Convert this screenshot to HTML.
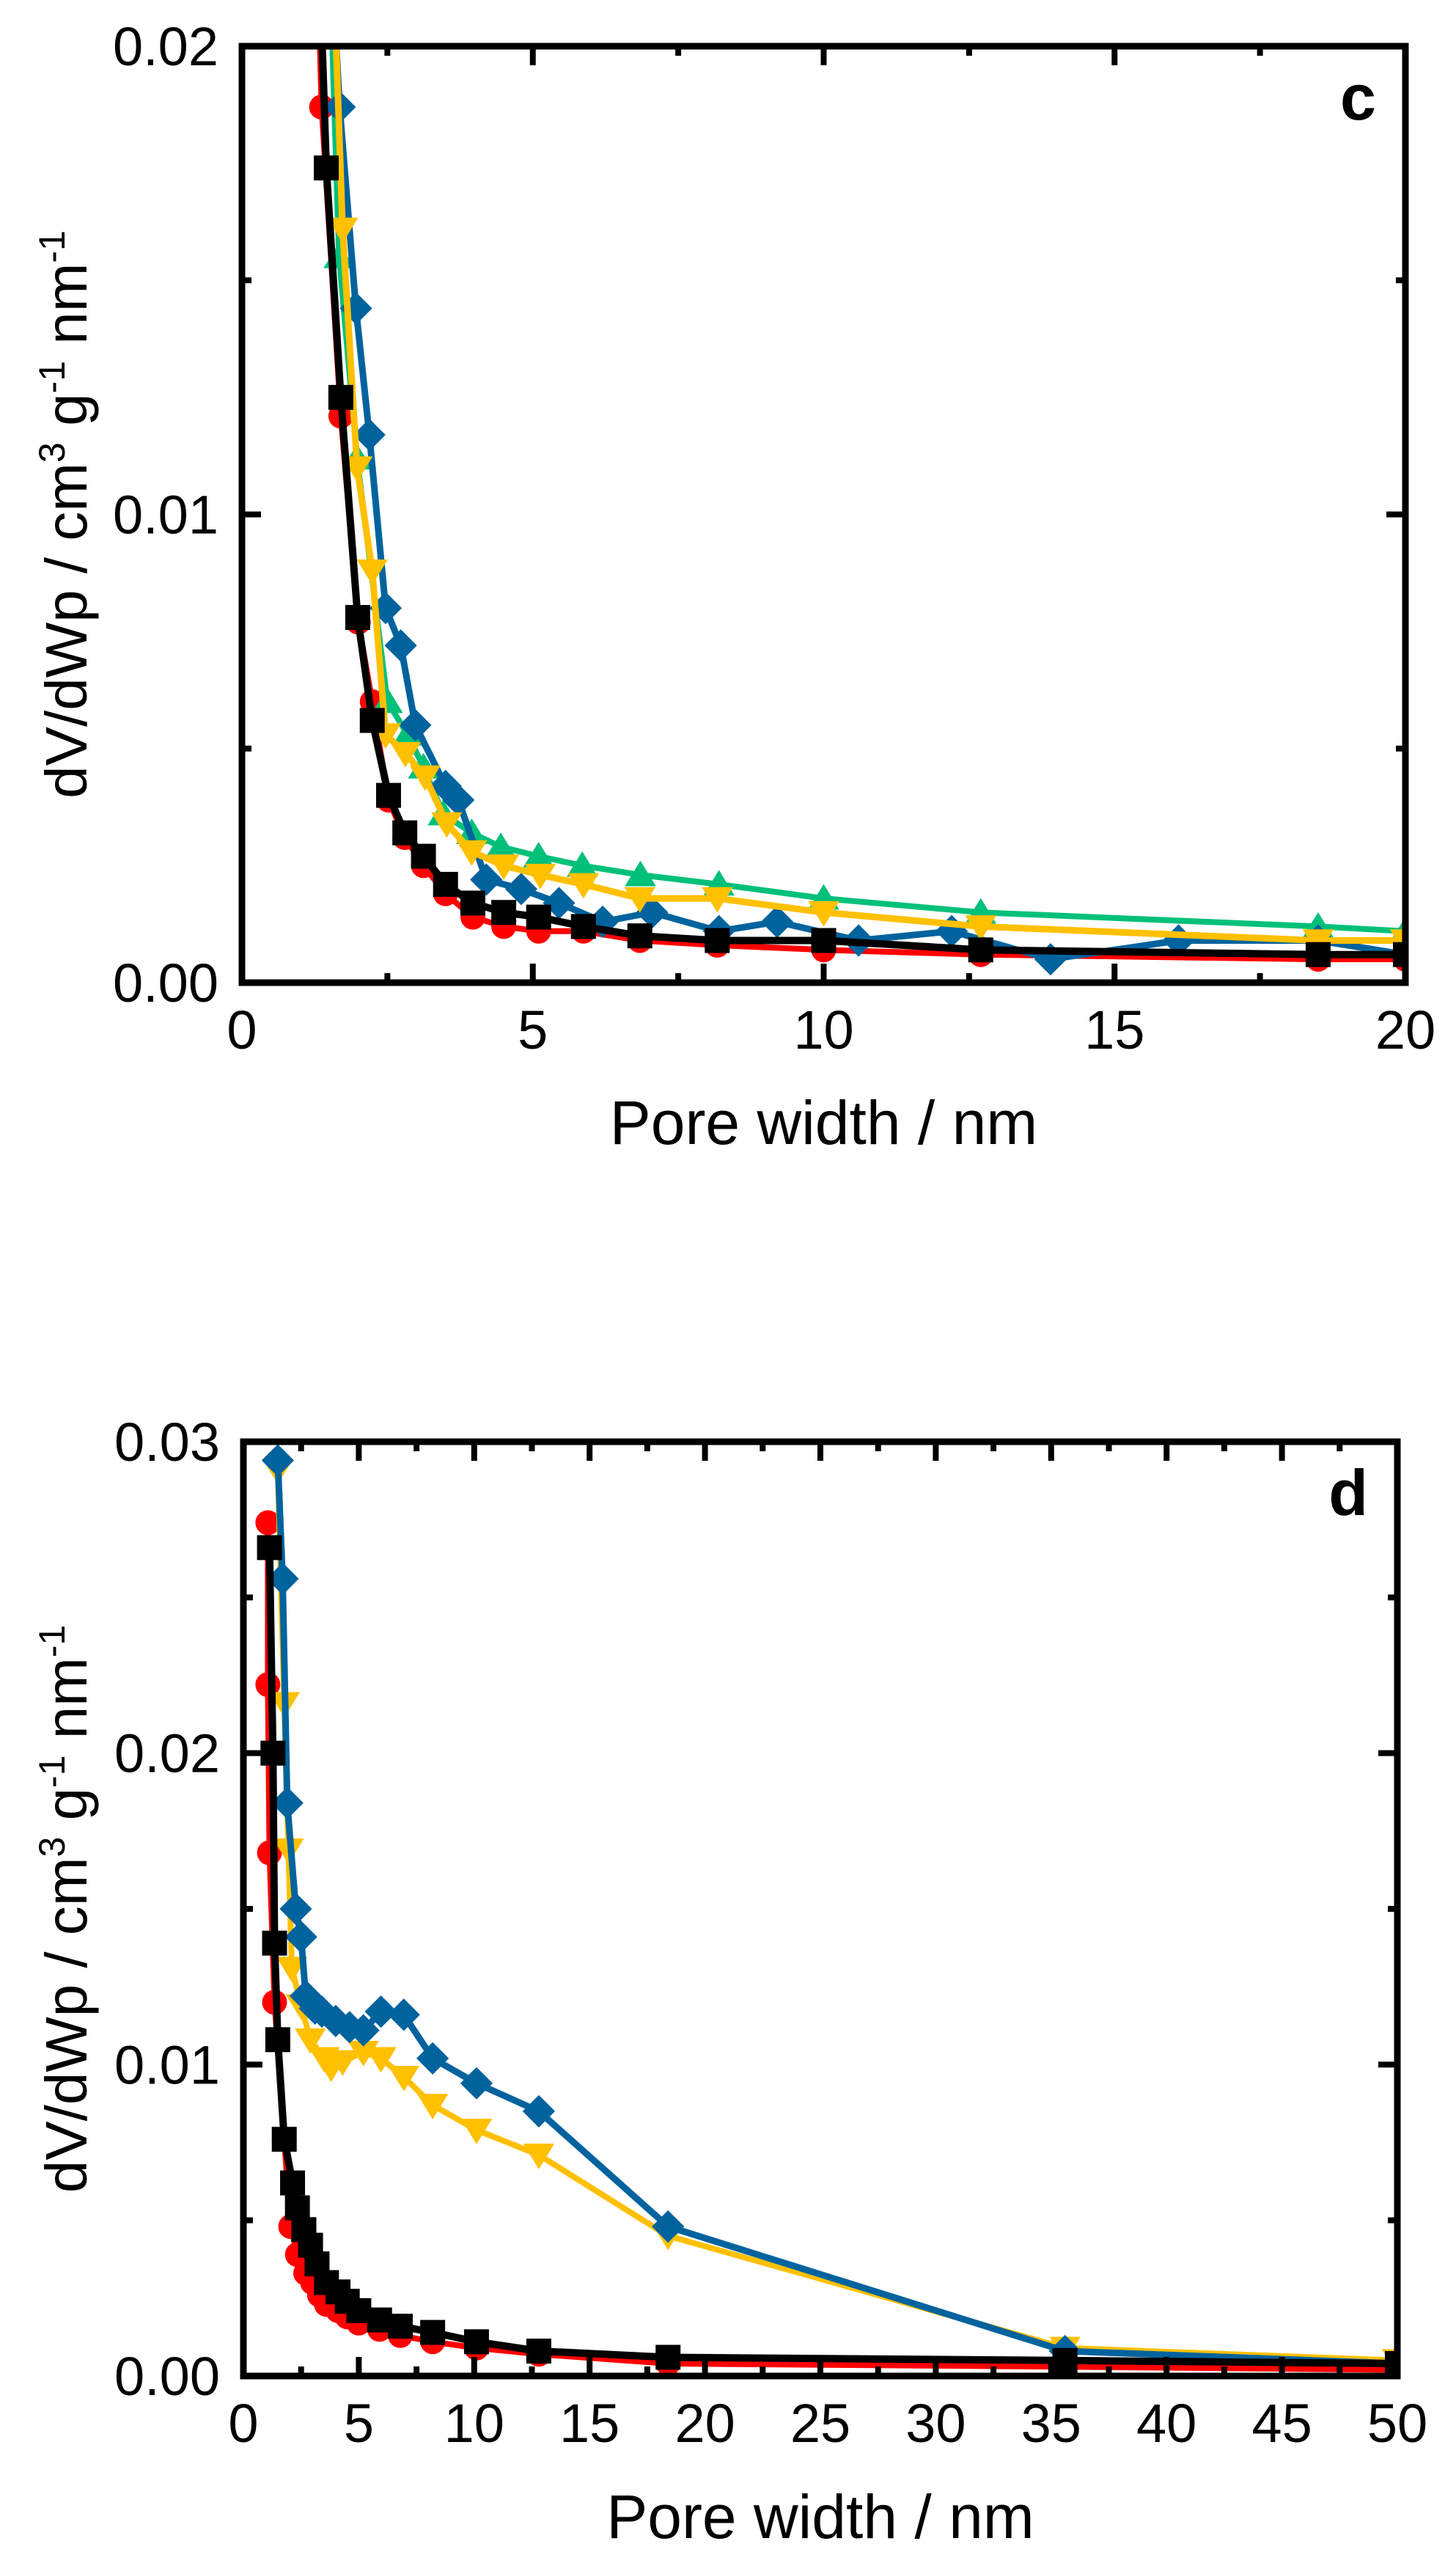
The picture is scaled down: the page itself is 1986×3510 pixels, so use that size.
<!DOCTYPE html>
<html><head><meta charset="utf-8">
<style>
html,body{margin:0;padding:0;background:#fff;}
svg{display:block;font-family:"Liberation Sans",Arial,sans-serif;}
</style></head>
<body>
<svg id="fig" width="1986" height="3510" viewBox="0 0 1986 3510" xmlns="http://www.w3.org/2000/svg"></svg>
<script>
// ---------- Panel c data ----------
const cRedX   = [1.25,1.37,1.7,2.0,2.24,2.52,2.8,3.12,3.5,3.97,4.5,5.1,5.87,6.84,8.17,10,12.7,18.5,20];
const cRedY   = [0.024,0.0187,0.0121,0.0077,0.0060,0.0039,0.0031,0.0025,0.0019,0.0014,0.0012,0.0011,0.0011,0.0009,0.0008,0.0007,0.0006,0.0005,0.0005];
const cBlackX = [1.3,1.45,1.7,1.99,2.24,2.52,2.8,3.12,3.5,3.97,4.5,5.1,5.87,6.84,8.17,10,12.7,18.5,20];
const cBlackY = [0.023,0.0174,0.0125,0.0078,0.0056,0.0040,0.0032,0.0027,0.0021,0.0017,0.0015,0.0014,0.0012,0.0010,0.0009,0.0009,0.0007,0.0006,0.0006];
const cGreenX = [1.4,1.67,1.98,2.5,2.85,3.12,3.46,3.95,4.45,5.1,5.85,6.85,8.2,10,12.7,18.5,20];
const cGreenY = [0.026,0.0155,0.0112,0.0060,0.0053,0.0046,0.0036,0.0032,0.0029,0.0027,0.0025,0.0023,0.0021,0.0018,0.0015,0.0012,0.0011];
const cBlueX  = [1.4,1.68,1.96,2.19,2.47,2.73,2.98,3.5,3.72,4.2,4.8,5.45,6.2,7.05,8.2,9.2,10.6,12.2,13.9,16.1,18.5,20];
const cBlueY  = [0.025,0.0187,0.0144,0.0117,0.0080,0.0072,0.0055,0.0042,0.0039,0.0022,0.0020,0.0017,0.0013,0.0015,0.0011,0.0013,0.0009,0.0011,0.0005,0.0009,0.0009,0.0006];
const cYellowX= [1.45,1.73,1.98,2.24,2.47,2.81,3.15,3.52,3.95,4.5,5.13,5.87,6.84,8.17,10,12.7,18.5,20];
const cYellowY= [0.026,0.0161,0.0110,0.0088,0.0053,0.0049,0.0044,0.0034,0.0028,0.0025,0.0023,0.0021,0.0018,0.0018,0.0015,0.0012,0.0009,0.0009];
// ---------- Panel d data ----------
const dRedX   = [1.06,1.06,1.13,1.35,1.77,2.05,2.34,2.7,3.0,3.3,3.6,4.1,4.5,5.0,5.9,6.8,8.2,10.1,12.8,18.4,35.6,50];
const dRedY   = [0.0274,0.0222,0.0168,0.0120,0.0076,0.0048,0.0039,0.0033,0.0030,0.0026,0.0023,0.0021,0.0019,0.0017,0.0015,0.0013,0.0011,0.0009,0.0007,0.0004,0.0003,0.0002];
const dBlackX = [1.13,1.28,1.35,1.49,1.77,2.13,2.34,2.62,2.91,3.19,3.6,4.1,4.5,5.0,5.9,6.8,8.2,10.1,12.8,18.4,35.6,50];
const dBlackY = [0.0266,0.0200,0.0139,0.0108,0.0076,0.0062,0.0054,0.0047,0.0042,0.0036,0.0030,0.0027,0.0024,0.0021,0.0018,0.0016,0.0014,0.0011,0.0008,0.0006,0.0005,0.0004];
const dBlueX  = [1.49,1.7,1.9,2.27,2.5,2.7,3.1,3.4,4.0,4.6,5.2,5.96,6.95,8.2,10.1,12.8,18.4,35.6,50];
const dBlueY  = [0.0294,0.0256,0.0184,0.0150,0.0141,0.0122,0.0118,0.0117,0.0114,0.0112,0.0111,0.0117,0.0116,0.0102,0.0094,0.0085,0.0048,0.0008,0.0004];
const dYellowX= [1.49,1.77,1.95,2.1,2.5,2.9,3.5,3.8,4.3,5.2,5.96,6.95,8.2,10.1,12.8,18.4,35.6,50];
const dYellowY= [0.0291,0.0216,0.0169,0.0131,0.0119,0.0108,0.0102,0.0099,0.0101,0.0104,0.0102,0.0096,0.0087,0.0079,0.0071,0.0045,0.0009,0.0005];

const NS="http://www.w3.org/2000/svg";
const svg=document.getElementById('fig');
function mk(tag,attrs,parent){const e=document.createElementNS(NS,tag);for(const k in attrs)e.setAttribute(k,attrs[k]);(parent||svg).appendChild(e);return e;}

function panel(cfg){
  const g=mk('g',{});
  
  
  const sx=v=>cfg.L+(v-cfg.x0)/(cfg.x1-cfg.x0)*(cfg.R-cfg.L);
  const sy=v=>cfg.B-(v-cfg.y0)/(cfg.y1-cfg.y0)*(cfg.B-cfg.T);
  const clipId='clip-'+cfg.name;
  const defs=mk('defs',{},g);
  const cp=mk('clipPath',{id:clipId},defs);
  mk('rect',{x:cfg.L,y:cfg.T,width:cfg.R-cfg.L,height:cfg.B-cfg.T},cp);
  const plot=mk('g',{'clip-path':'url(#'+clipId+')'},g);
  cfg.series.forEach(s=>{
    const sg=mk('g',{},plot);
    
    
    const pts=s.x.map((xv,i)=>sx(xv).toFixed(1)+','+sy(s.y[i]).toFixed(1)).join(' ');
    const pl=mk('polyline',{points:pts,fill:'none',stroke:s.color,'stroke-width':s.lw,'stroke-linejoin':'round'},sg);
    
    
    s.x.forEach((xv,i)=>{
      const cx=sx(xv),cy=sy(s.y[i]);const r=17;let m;
      if(s.marker==='circle')m=mk('circle',{cx:cx,cy:cy,r:r,fill:s.color},sg);
      else if(s.marker==='square')m=mk('rect',{x:cx-r,y:cy-r,width:2*r,height:2*r,fill:s.color},sg);
      else if(s.marker==='up')m=mk('polygon',{points:`${cx},${cy-r*1.15} ${cx+r*1.25},${cy+r*0.9} ${cx-r*1.25},${cy+r*0.9}`,fill:s.color},sg);
      else if(s.marker==='down')m=mk('polygon',{points:`${cx},${cy+r*1.15} ${cx+r*1.25},${cy-r*0.9} ${cx-r*1.25},${cy-r*0.9}`,fill:s.color},sg);
      else m=mk('polygon',{points:`${cx},${cy-r*1.3} ${cx+r*1.3},${cy} ${cx},${cy+r*1.3} ${cx-r*1.3},${cy}`,fill:s.color},sg);
      
      
    });
  });
  const tg=mk('g',{stroke:'#000','stroke-width':8},g);
  for(let v=cfg.x0;v<=cfg.x1+1e-9;v+=cfg.xMinor){
    const major=Math.abs(v/cfg.xMajor-Math.round(v/cfg.xMajor))<1e-6;const len=major?26:13;const x=sx(v);
    mk('line',{x1:x,x2:x,y1:cfg.B,y2:cfg.B-len},tg);mk('line',{x1:x,x2:x,y1:cfg.T,y2:cfg.T+len},tg);
  }
  for(let v=cfg.y0;v<=cfg.y1+1e-9;v+=cfg.yMinor){
    const major=Math.abs(v/cfg.yMajor-Math.round(v/cfg.yMajor))<1e-6;const len=major?26:13;const y=sy(v);
    mk('line',{x1:cfg.L,x2:cfg.L+len,y1:y,y2:y},tg);mk('line',{x1:cfg.R,x2:cfg.R-len,y1:y,y2:y},tg);
  }
  const fr=mk('rect',{x:cfg.L,y:cfg.T,width:cfg.R-cfg.L,height:cfg.B-cfg.T,fill:'none',stroke:'#000','stroke-width':9},g);
  
  
  cfg.xTicks.forEach(v=>{
    const t=mk('text',{x:sx(v),y:cfg.B+90,'font-size':74,'text-anchor':'middle'},g);t.textContent=String(v);
    
    
  });
  cfg.yTicks.forEach(v=>{
    const t=mk('text',{x:cfg.L-32,y:sy(v)+26,'font-size':74,'text-anchor':'end'},g);t.textContent=v.toFixed(2);
    
    
  });
  const xt=mk('text',{x:(cfg.L+cfg.R)/2,y:cfg.xTitleY,'font-size':84,'text-anchor':'middle'},g);xt.textContent='Pore width / nm';
  
  
  const cy=(cfg.T+cfg.B)/2;
  const yt=mk('text',{x:0,y:0,'font-size':80,'text-anchor':'middle',transform:`translate(${cfg.yTitleX},${cy}) rotate(-90)`},g);
  
  
  yt.innerHTML='dV/dWp / cm<tspan dy="-30" font-size="50">3</tspan><tspan dy="30"> g</tspan><tspan dy="-30" font-size="50">-1</tspan><tspan dy="30"> nm</tspan><tspan dy="-30" font-size="50">-1</tspan>';
  const pl=mk('text',{x:cfg.R-40,y:cfg.T+100,'font-size':88,'font-weight':'bold','text-anchor':'end'},g);pl.textContent=cfg.label;
  
  
}

panel({name:'panel-c',label:'c',L:330,R:1917,T:63,B:1340,x0:0,x1:20,y0:0,y1:0.02,xMajor:5,xMinor:2.5,yMajor:0.01,yMinor:0.005,
  xTicks:[0,5,10,15,20],yTicks:[0,0.01,0.02],xTitleY:1560,yTitleX:118,
  series:[
    {name:'series-red',x:cRedX,y:cRedY,color:'#ff0000',marker:'circle',lw:8},
    {name:'series-green',x:cGreenX,y:cGreenY,color:'#00c07a',marker:'up',lw:8},
    {name:'series-blue',x:cBlueX,y:cBlueY,color:'#00639e',marker:'diamond',lw:9},
    {name:'series-yellow',x:cYellowX,y:cYellowY,color:'#ffc000',marker:'down',lw:9},
    {name:'series-black',x:cBlackX,y:cBlackY,color:'#000000',marker:'square',lw:10}
  ]});
panel({name:'panel-d',label:'d',L:332,R:1906,T:1966,B:3240,x0:0,x1:50,y0:0,y1:0.03,xMajor:5,xMinor:2.5,yMajor:0.01,yMinor:0.005,
  xTicks:[0,5,10,15,20,25,30,35,40,45,50],yTicks:[0,0.01,0.02,0.03],xTitleY:3461,yTitleX:118,
  series:[
    {name:'series-red',x:dRedX,y:dRedY,color:'#ff0000',marker:'circle',lw:8},
    {name:'series-yellow',x:dYellowX,y:dYellowY,color:'#ffc000',marker:'down',lw:8},
    {name:'series-blue',x:dBlueX,y:dBlueY,color:'#00639e',marker:'diamond',lw:9},
    {name:'series-black',x:dBlackX,y:dBlackY,color:'#000000',marker:'square',lw:10}
  ]});
</script>
</body></html>
